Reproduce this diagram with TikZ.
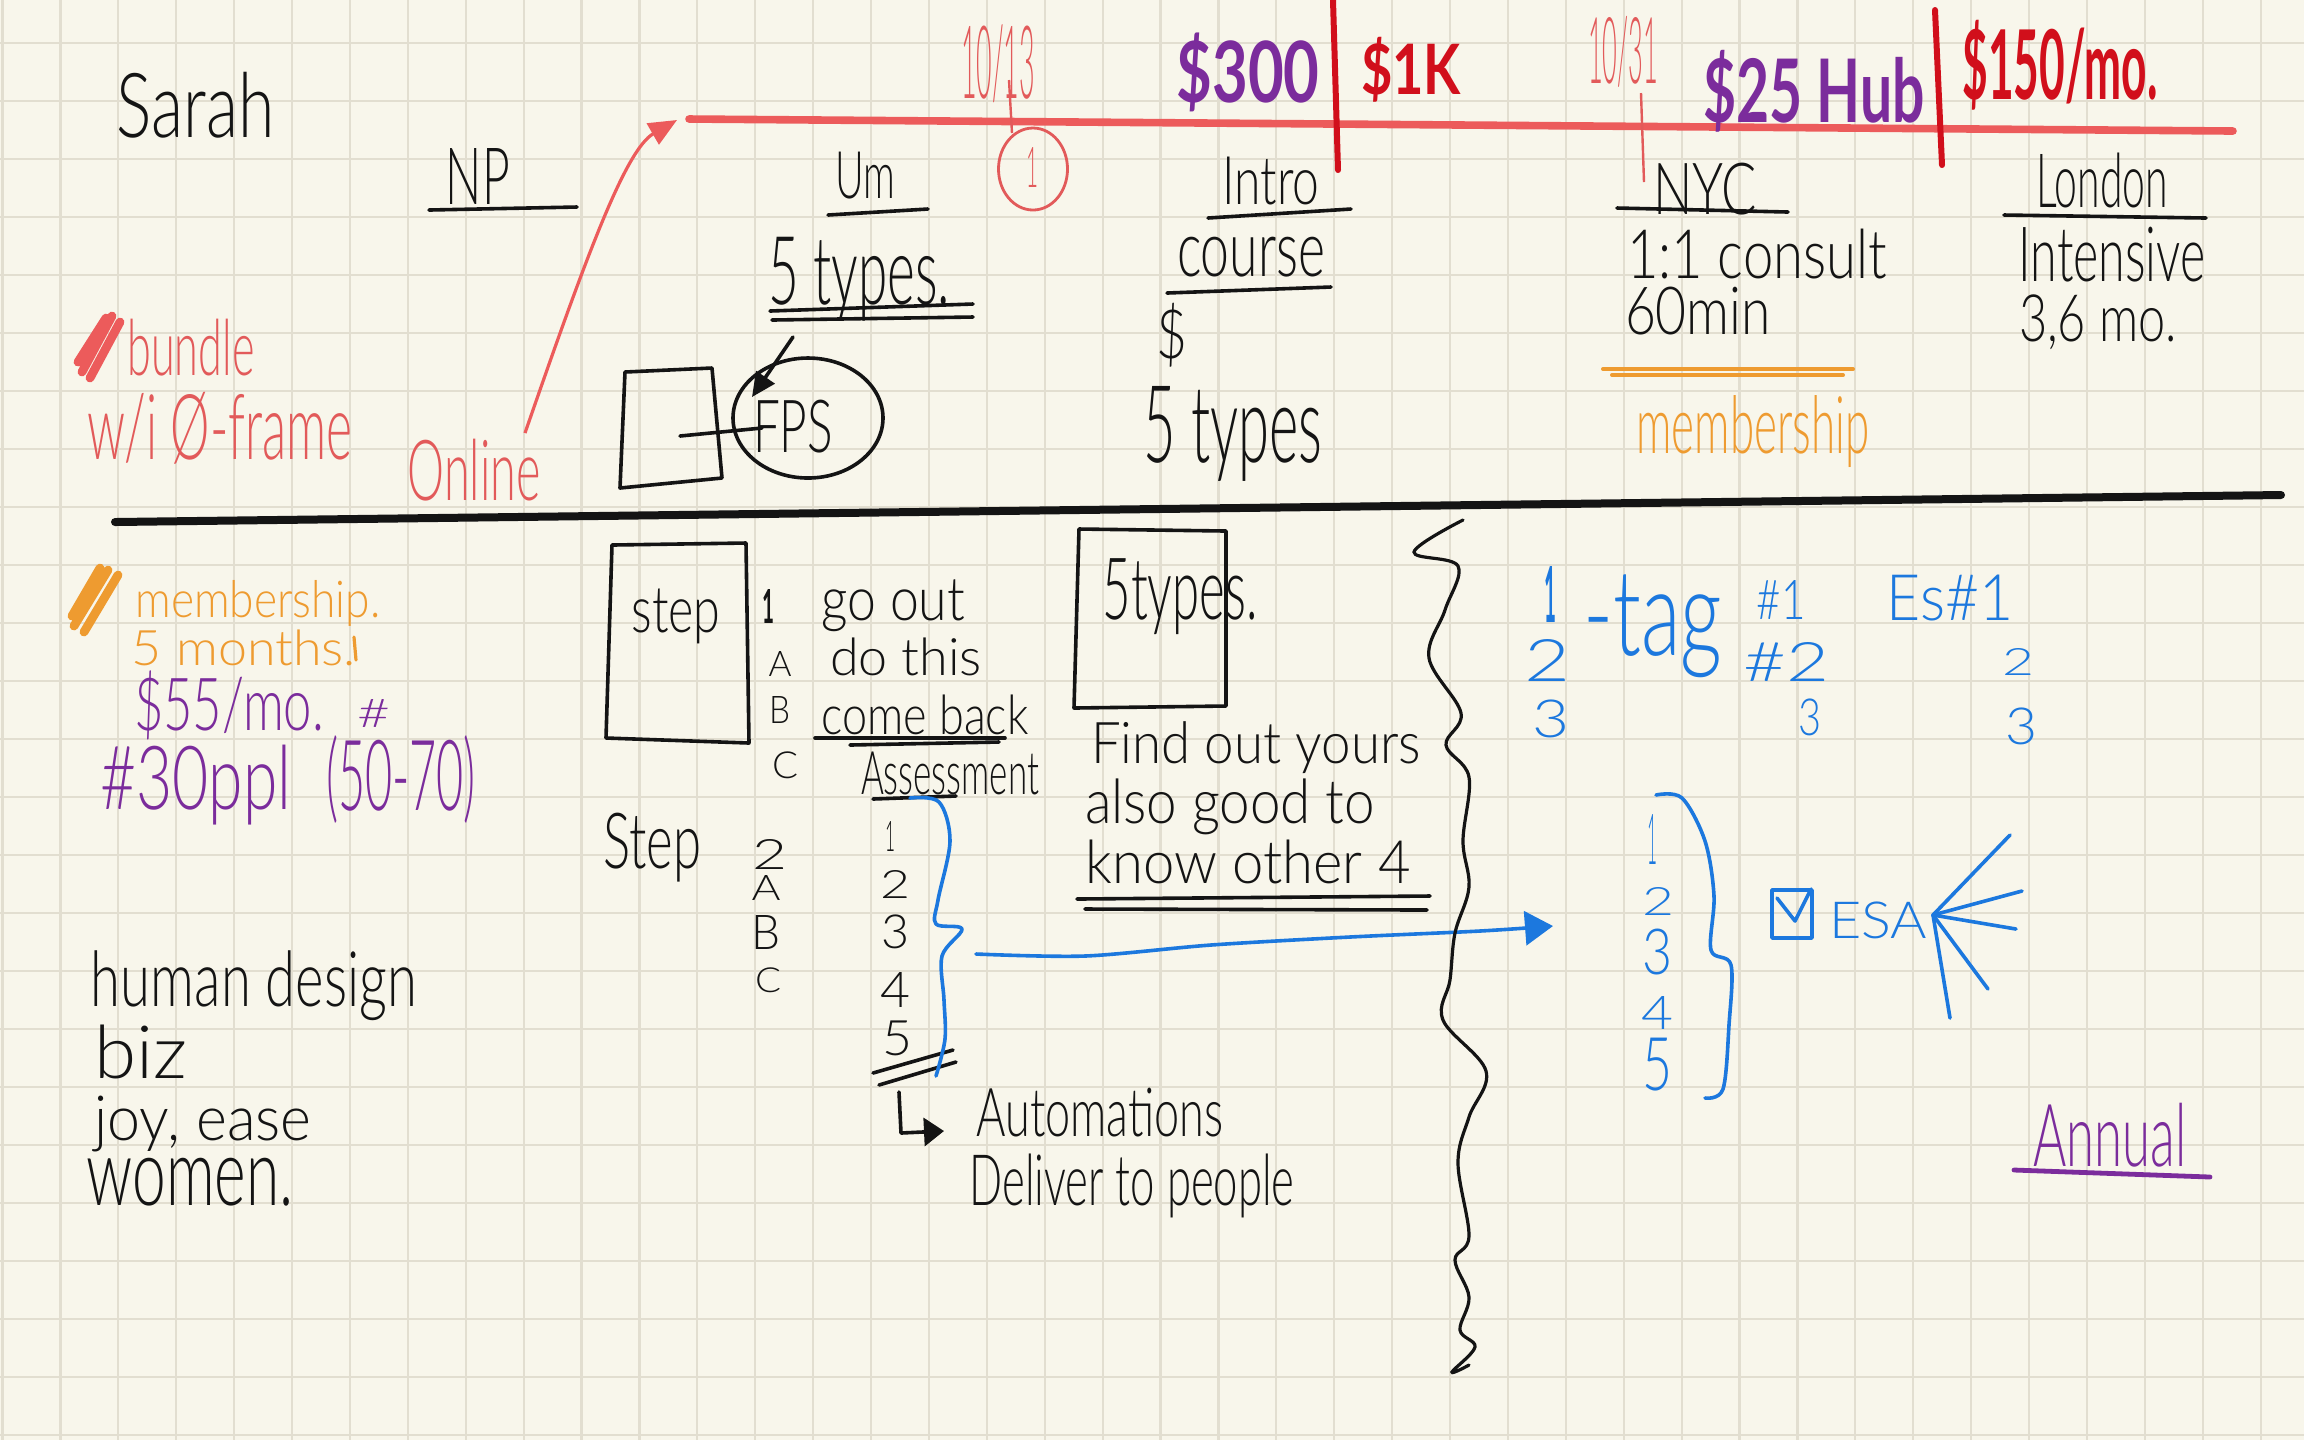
\documentclass[tikz,border=0pt]{standalone}
\usepackage{fontspec}
\setmainfont{Lato}[UprightFont={* Light},BoldFont={* Bold}]
\usepackage{graphicx}
\usetikzlibrary{arrows.meta}
\definecolor{paper}{HTML}{F8F6EB}
\definecolor{gridc}{HTML}{E2DED0}
\definecolor{ink}{HTML}{141414}
\definecolor{salmon}{HTML}{EC5B5B}
\definecolor{redhand}{HTML}{E25A5A}
\definecolor{darkred}{HTML}{D10F1B}
\definecolor{purp}{HTML}{7B2C9C}
\definecolor{orng}{HTML}{EE9B30}
\definecolor{blu}{HTML}{1C78DE}
\newdimen\hu \hu=0.25pt
\newcommand\hw[3]{\resizebox*{#1\hu}{#2\hu}{#3}}
\begin{document}
\begin{tikzpicture}[x=0.25pt,y=-0.25pt,
  hw/.style={inner sep=0pt,outer sep=0pt,anchor=center},
  pen/.style={line width=0.9pt,line cap=round,line join=round},
  gridl/.style={draw=gridc,line width=0.55pt}]
\useasboundingbox (0,0) rectangle (2304,1440);
\fill[paper] (0,0) rectangle (2304,1440);
\foreach \k in {0,...,39} {\draw[gridl] ({2.5+57.9*\k},0) -- ({2.5+57.9*\k},1440);}
\foreach \k in {0,...,24} {\draw[gridl] (0,{43.3+58*\k}) -- (2304,{43.3+58*\k});}

% ---------- top: timeline ----------
\coordinate (tlstart) at (689,119);
\coordinate (tlend) at (2233,131);
\draw[salmon,line width=1.9pt,line cap=round] (tlstart) -- (tlend);
\coordinate (bar1a) at (1333,0); \coordinate (bar1b) at (1338,170);
\coordinate (bar2a) at (1935,10); \coordinate (bar2b) at (1942,165);
\draw[darkred,line width=1.5pt,line cap=round] (bar1a) -- (bar1b);
\draw[darkred,line width=1.5pt,line cap=round] (bar2a) -- (bar2b);
\coordinate (tick1a) at (1009,80); \coordinate (tick1b) at (1012,133);
\coordinate (tick2a) at (1641,93); \coordinate (tick2b) at (1644,182);
\draw[redhand,line width=0.6pt] (tick1a) -- (tick1b);
\draw[redhand,line width=0.6pt] (tick2a) -- (tick2b);
\node[hw,text=redhand] (d1013) at (998,64) {\hw{74}{78}{10/13}};
\node[hw,text=redhand] (d1031) at (1623,52) {\hw{70}{71}{10/31}};
\draw[redhand,line width=0.7pt] (1033,169) ellipse [x radius=34.5,y radius=41];
\node[hw,text=redhand] (one) at (1032,167) {\hw{12}{40}{1}};
\node[hw,text=purp] (p300) at (1248,72) {\hw{143}{79}{\bfseries \$300}};
\node[hw,text=darkred] (p1k) at (1411,70) {\hw{100}{65}{\bfseries \$1K}};
\node[hw,text=purp] (p25) at (1814,91) {\hw{221}{82}{\bfseries \$25 Hub}};
\node[hw,text=darkred] (p150) at (2060,65) {\hw{195}{90}{\bfseries \$150/mo.}};

% ---------- top: columns ----------
\node[hw,text=ink] (sarah) at (196,105) {\hw{158}{66}{Sarah}};
\node[hw,text=ink] (np) at (478,176) {\hw{64}{56}{NP}};
\draw[ink,pen] (429,210) -- (577,207);
\node[hw,text=ink] (um) at (865,176) {\hw{60}{47}{Um}};
\draw[ink,pen] (828,215) -- (928,209);
\node[hw,text=ink] (typ1) at (859,279) {\hw{182}{84}{5 types.}};
\draw[ink,pen] (770,311) -- (973,304);
\draw[ink,pen] (772,320) -- (973,317);
\node[hw,text=ink] (intro) at (1271,181) {\hw{97}{48}{Intro}};
\draw[ink,pen] (1208,218) -- (1351,209);
\node[hw,text=ink] (course) at (1251,257) {\hw{148}{40}{course}};
\draw[ink,pen] (1167,293) -- (1331,287);
\node[hw,text=ink] (dollar) at (1172,335) {\hw{31}{64}{\$}};
\node[hw,text=ink] (typ2) at (1233,434) {\hw{179}{95}{5 types}};
\node[hw,text=ink] (nyc) at (1705,189) {\hw{104}{52}{NYC}};
\draw[ink,pen] (1617,208) -- (1788,212);
\node[hw,text=ink] (consult) at (1757,254) {\hw{260}{50}{1:1 consult}};
\node[hw,text=ink] (min) at (1698,311) {\hw{146}{48}{60min}};
\draw[orng,line width=1pt,line cap=round] (1603,369) -- (1853,369);
\draw[orng,line width=1pt,line cap=round] (1612,375) -- (1843,375);
\node[hw,text=orng] (memb1) at (1753,431) {\hw{233}{72}{membership}};
\node[hw,text=ink] (london) at (2102,180) {\hw{132}{55}{London}};
\draw[ink,pen] (2004,215) -- (2206,218);
\node[hw,text=ink] (intens) at (2112,255) {\hw{187}{55}{Intensive}};
\node[hw,text=ink] (mo36) at (2098,322) {\hw{158}{55}{3,6 mo.}};

% left top
\draw[salmon,line width=2.2pt,line cap=round] (82,372) -- (112,316) (90,378) -- (120,322) (78,362) -- (106,318);
\node[hw,text=redhand] (bundle) at (191,348) {\hw{127}{57}{bundle}};
\node[hw,text=redhand] (frame) at (220,428) {\hw{265}{72}{w/i Ø-frame}};
\node[hw,text=redhand] (online) at (474,470) {\hw{133}{62}{Online}};
\coordinate (oarr) at (525,433);
\draw[salmon,line width=0.8pt,-{Triangle[length=7pt,width=6pt]}] (oarr) .. controls (585,260) and (625,150) .. (677,120);

% FPS
\draw[ink,pen] (625,372) -- (712,368) -- (722,478) -- (620,488) -- cycle;
\draw[ink,pen] (680,436) -- (762,428);
\draw[ink,pen] (808,418) ellipse [x radius=75,y radius=60];
\node[hw,text=ink] (fps) at (793,427) {\hw{80}{53}{FPS}};
\coordinate (fpsa) at (793,337);
\draw[ink,pen,-{Triangle[length=6pt,width=5.5pt]}] (fpsa) -- (752,397);

% divider
\draw[ink,line width=2pt,line cap=round] (115,522) -- (2281,495);

% ---------- bottom left ----------
\draw[orng,line width=2.2pt,line cap=round] (74,626) -- (108,570) (84,632) -- (118,575) (72,616) -- (100,568);
\node[hw,text=orng] (memb2) at (258,603) {\hw{245}{46}{membership.}};
\node[hw,text=orng] (months) at (244,648) {\hw{224}{36}{5 months.}};
\draw[orng,line width=0.8pt,line cap=round] (354,637) -- (356,660);
\node[hw,text=purp] (p55) at (229,705) {\hw{190}{69}{\$55/mo.}};
\node[hw,text=purp] (hash) at (374,713) {\hw{33}{28}{\#}};
\node[hw,text=purp] (ppl) at (196,785) {\hw{191}{80}{\#30ppl}};
\node[hw,text=purp] (range) at (401,779) {\hw{150}{88}{(50-70)}};
\node[hw,text=ink] (human) at (254,986) {\hw{326}{70}{human design}};
\node[hw,text=ink] (biz) at (141,1052) {\hw{93}{54}{biz}};
\node[hw,text=ink] (joy) at (203,1124) {\hw{217}{56}{joy, ease}};
\node[hw,text=ink] (women) at (190,1182) {\hw{207}{48}{women.}};

% ---------- bottom middle ----------
\draw[ink,pen] (612,545) -- (746,543) -- (749,743) -- (606,738) -- cycle;
\node[hw,text=ink] (step1) at (676,616) {\hw{89}{55}{step}};
\node[hw,text=ink] (n1) at (768,606) {\hw{12}{34}{\bfseries 1}};
\node[hw,text=ink] (goout) at (893,606) {\hw{144}{52}{go out}};
\node[hw,text=ink] (a1) at (780,664) {\hw{23}{25}{A}};
\node[hw,text=ink] (dothis) at (906,657) {\hw{152}{38}{do this}};
\node[hw,text=ink] (b1) at (780,710) {\hw{21}{27}{B}};
\node[hw,text=ink] (comeback) at (925,715) {\hw{207}{40}{come back}};
\draw[ink,pen] (815,738) -- (1005,738);
\draw[ink,pen] (850,745) -- (999,742);
\node[hw,text=ink] (c1) at (785,765) {\hw{26}{27}{C}};
\node[hw,text=ink] (assess) at (950,773) {\hw{178}{43}{Assessment}};
\draw[ink,pen] (873,799) -- (956,796);
\node[hw,text=ink] (step2) at (652,848) {\hw{98}{69}{Step}};
\node[hw,text=ink] (n2) at (770,854) {\hw{35}{30}{2}};
\node[hw,text=ink] (a2) at (766,888) {\hw{29}{25}{A}};
\node[hw,text=ink] (b2) at (766,932) {\hw{29}{34}{B}};
\node[hw,text=ink] (c2) at (768,980) {\hw{26}{25}{C}};
\node[hw,text=ink] (k1) at (890,836) {\hw{10}{30}{1}};
\node[hw,text=ink] (k2) at (895,884) {\hw{30}{28}{2}};
\node[hw,text=ink] (k3) at (895,932) {\hw{28}{34}{3}};
\node[hw,text=ink] (k4) at (895,990) {\hw{30}{35}{4}};
\node[hw,text=ink] (k5) at (897,1038) {\hw{30}{35}{5}};
\draw[ink,pen] (873,1073) -- (953,1050);
\draw[ink,pen] (879,1085) -- (956,1062);
\coordinate (la) at (899,1092);
\draw[ink,pen,-{Triangle[length=5pt,width=7pt]}] (la) -- (901,1133) -- (944,1131);
\node[hw,text=ink] (autom) at (1100,1113) {\hw{247}{49}{Automations}};
\node[hw,text=ink] (deliver) at (1132,1186) {\hw{325}{64}{Deliver to people}};

\draw[ink,pen] (1079,529) -- (1226,531) -- (1226,706) -- (1074,708) -- cycle;
\node[hw,text=ink] (typ3) at (1180,597) {\hw{155}{76}{5types.}};
\node[hw,text=ink] (find) at (1256,748) {\hw{330}{52}{Find out yours}};
\node[hw,text=ink] (also) at (1230,807) {\hw{290}{56}{also good to}};
\node[hw,text=ink] (know) at (1248,862) {\hw{325}{44}{know other 4}};
\draw[ink,pen] (1077,899) -- (1430,896);
\draw[ink,pen] (1085,909) -- (1427,910);

% blue brace left
\draw[blu,pen] plot[smooth,tension=0.55] coordinates {(910,798) (939,802) (950,841) (938,900) (936,924) (962,929) (942,956) (944,1000) (945,1039) (936,1076)};
% blue arrow
\coordinate (barr) at (976,954);
\draw[blu,pen,-{Triangle[length=7pt,width=8.5pt]}] plot[smooth,tension=0.5] coordinates {(barr) (1085,956) (1211,945) (1350,937) (1480,931) (1553,926)};

% wavy separator
\draw[ink,line width=0.8pt,line cap=round] plot[smooth,tension=0.6] coordinates {(1463,520) (1414,552) (1458,566) (1445,610) (1429,658) (1461,713) (1446,745) (1469,777) (1463,841) (1469,887) (1455,933) (1450,980) (1443,1020) (1486,1071) (1469,1117) (1458,1163) (1469,1236) (1455,1260) (1469,1297) (1460,1330) (1475,1347) (1452,1372) (1469,1365)};

% ---------- bottom right (blue) ----------
\node[hw,text=blu] (b1a) at (1550,594) {\hw{12}{56}{\bfseries 1}};
\node[hw,text=blu] (tag) at (1653,626) {\hw{139}{103}{-tag}};
\node[hw,text=blu] (h1) at (1781,600) {\hw{49}{39}{\#1}};
\node[hw,text=blu] (es1) at (1950,598) {\hw{127}{46}{Es\#1}};
\node[hw,text=blu] (b2a) at (1547,660) {\hw{46}{42}{2}};
\node[hw,text=blu] (h2) at (1786,662) {\hw{86}{39}{\#2}};
\node[hw,text=blu] (e2) at (2018,662) {\hw{32}{27}{2}};
\node[hw,text=blu] (b3a) at (1551,719) {\hw{37}{38}{3}};
\node[hw,text=blu] (h3) at (1810,717) {\hw{23}{37}{3}};
\node[hw,text=blu] (e3) at (2021,726) {\hw{32}{37}{3}};
\node[hw,text=blu] (q1) at (1652,839) {\hw{10}{50}{1}};
\node[hw,text=blu] (q2) at (1658,901) {\hw{32}{28}{2}};
\node[hw,text=blu] (q3) at (1657,952) {\hw{30}{46}{3}};
\node[hw,text=blu] (q4) at (1657,1013) {\hw{32}{33}{4}};
\node[hw,text=blu] (q5) at (1657,1065) {\hw{30}{53}{5}};
\draw[blu,pen] plot[smooth,tension=0.55] coordinates {(1656,795) (1682,798) (1705,841) (1714,896) (1711,950) (1731,965) (1729,1025) (1723,1089) (1705,1098)};
\draw[blu,pen] (1772,890) rectangle (1812,938);
\draw[blu,pen] (1777,898) -- (1795,921) -- (1811,889);
\node[hw,text=blu] (esa) at (1878,920) {\hw{98}{37}{ESA}};
\coordinate (ray) at (1933,915);
\draw[blu,pen] (ray) -- (2010,835);
\draw[blu,pen] (ray) -- (2022,891);
\draw[blu,pen] (ray) -- (2016,929);
\draw[blu,pen] (ray) -- (1988,989);
\draw[blu,pen] (ray) -- (1950,1018);
\node[hw,text=purp] (annual) at (2110,1135) {\hw{153}{64}{Annual}};
\draw[purp,line width=1.2pt,line cap=round] (2014,1170) -- (2210,1177);
\end{tikzpicture}
\end{document}
